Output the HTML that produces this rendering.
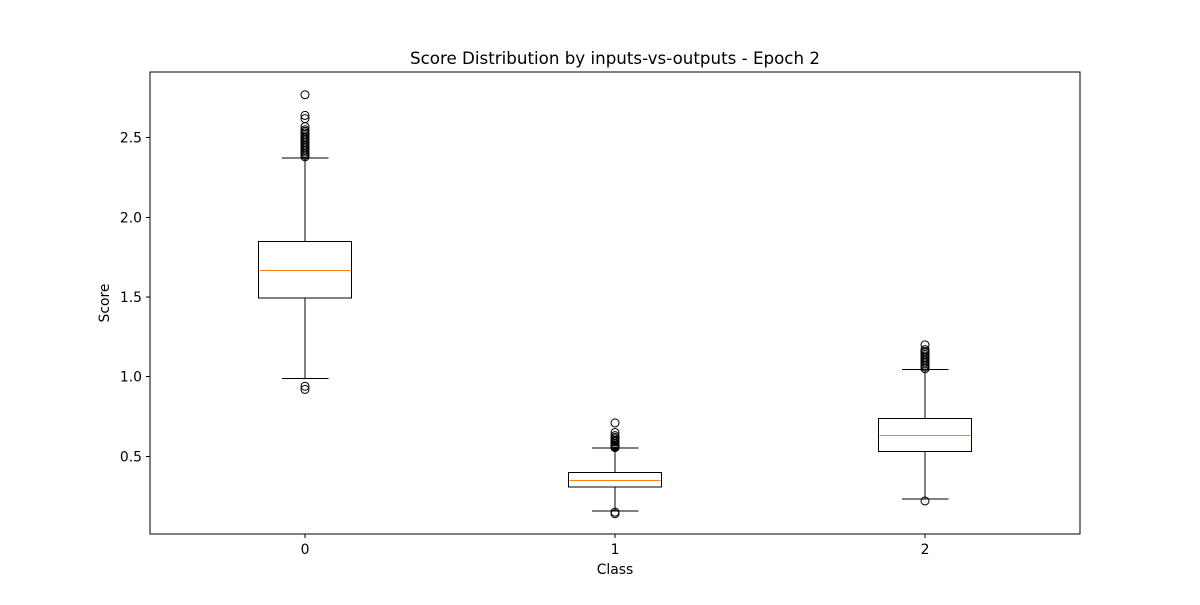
<!DOCTYPE html>
<html><head><meta charset="utf-8"><style>
body{margin:0;background:#fff;}
svg text{font-family:"DejaVu Sans","Liberation Sans",sans-serif;font-size:13.9px;fill:#000;}
svg line, svg rect{shape-rendering:crispEdges;}
</style></head><body>
<svg id="chart" width="1200" height="600" xmlns="http://www.w3.org/2000/svg"></svg>
<script>
const categories = ["0","1","2"];
const q1Values = [1.495, 0.306, 0.531];
const q3Values = [1.85, 0.40, 0.7375];
const medianValues = [1.67, 0.35, 0.631];
const whiskerLow = [0.99, 0.156, 0.231];
const whiskerHigh = [2.372, 0.552, 1.044];
const outliers = [
  [2.77,2.64,2.62,2.57,2.55,2.54,2.53,2.52,2.51,2.50,2.49,2.48,2.47,2.46,2.45,2.44,2.43,2.42,2.41,2.40,2.39,2.38,0.94,0.92],
  [0.71,0.65,0.63,0.62,0.61,0.60,0.595,0.59,0.58,0.57,0.565,0.56,0.555,0.15,0.14],
  [1.20,1.17,1.16,1.15,1.14,1.13,1.12,1.11,1.10,1.09,1.08,1.07,1.06,1.05,0.22]
];
const yTicks = [0.5,1.0,1.5,2.0,2.5];
const yTickLabels = ["0.5","1.0","1.5","2.0","2.5"];

const L=150,R=1080,T=72,B=534;
const xMin=-0.5,xMax=2.5,yMin=0.0125,yMax=2.9125;
const xs=v=>L+(v-xMin)/(xMax-xMin)*(R-L);
const ys=v=>B-(v-yMin)/(yMax-yMin)*(B-T);
const px=v=>Math.round(v)+0.5;
const svg=document.getElementById('chart');
const NS='http://www.w3.org/2000/svg';
function mk(tag,attrs,parent){const e=document.createElementNS(NS,tag);for(const k in attrs)e.setAttribute(k,attrs[k]);(parent||svg).appendChild(e);return e;}

const title=mk('text',{x:615,y:64,'text-anchor':'middle'});


title.textContent='Score Distribution by inputs-vs-outputs - Epoch 2';
title.style.fontSize='16.7px';

yTicks.forEach((v,i)=>{
  const y=ys(v);
  const t=mk('line',{x1:L-4,x2:L,y1:y,y2:y,stroke:'#000','stroke-width':1});
  
  
  const lb=mk('text',{x:L-8,y:y+5,'text-anchor':'end'});
  
  
  lb.textContent=yTickLabels[i];
});
categories.forEach((c,i)=>{
  const x=xs(i);
  const t=mk('line',{x1:x,x2:x,y1:B,y2:B+4,stroke:'#000','stroke-width':1});
  
  
  const lb=mk('text',{x:x,y:B+20,'text-anchor':'middle'});
  
  
  lb.textContent=c;
});
const xt=mk('text',{x:615,y:574,'text-anchor':'middle'});


xt.textContent='Class';
const yt=mk('text',{x:109,y:303,'text-anchor':'middle',transform:'rotate(-90 109 303)'});


yt.textContent='Score';

const bw=0.15, cw=0.075;
categories.forEach((c,i)=>{
  const g=mk('g',{});
  
  
  const x=xs(i), x0=xs(i-bw), x1=xs(i+bw), c0=xs(i-cw), c1=xs(i+cw);
  mk('line',{x1:x,x2:x,y1:ys(q1Values[i]),y2:ys(whiskerLow[i]),stroke:'#000'},g);
  mk('line',{x1:x,x2:x,y1:ys(q3Values[i]),y2:ys(whiskerHigh[i]),stroke:'#000'},g);
  mk('line',{x1:c0,x2:c1,y1:ys(whiskerLow[i]),y2:ys(whiskerLow[i]),stroke:'#000'},g);
  mk('line',{x1:c0,x2:c1,y1:ys(whiskerHigh[i]),y2:ys(whiskerHigh[i]),stroke:'#000'},g);
  mk('rect',{x:x0,y:ys(q3Values[i]),width:x1-x0,height:ys(q1Values[i])-ys(q3Values[i]),fill:'none',stroke:'#000'},g);
  const my=px(ys(medianValues[i]));
  const med=mk('line',{x1:x0+1,x2:x1-1,y1:my,y2:my,stroke:'#ff7f0e','stroke-width':1.2},g);
  
  
  outliers[i].forEach(v=>{
    const o=mk('circle',{cx:x,cy:ys(v),r:4,fill:'none',stroke:'#000'},g);
    
    
  });
});
const frame=mk('rect',{x:L,y:T,width:R-L,height:B-T,fill:'none',stroke:'#000','stroke-width':1});


</script>
</body></html>
